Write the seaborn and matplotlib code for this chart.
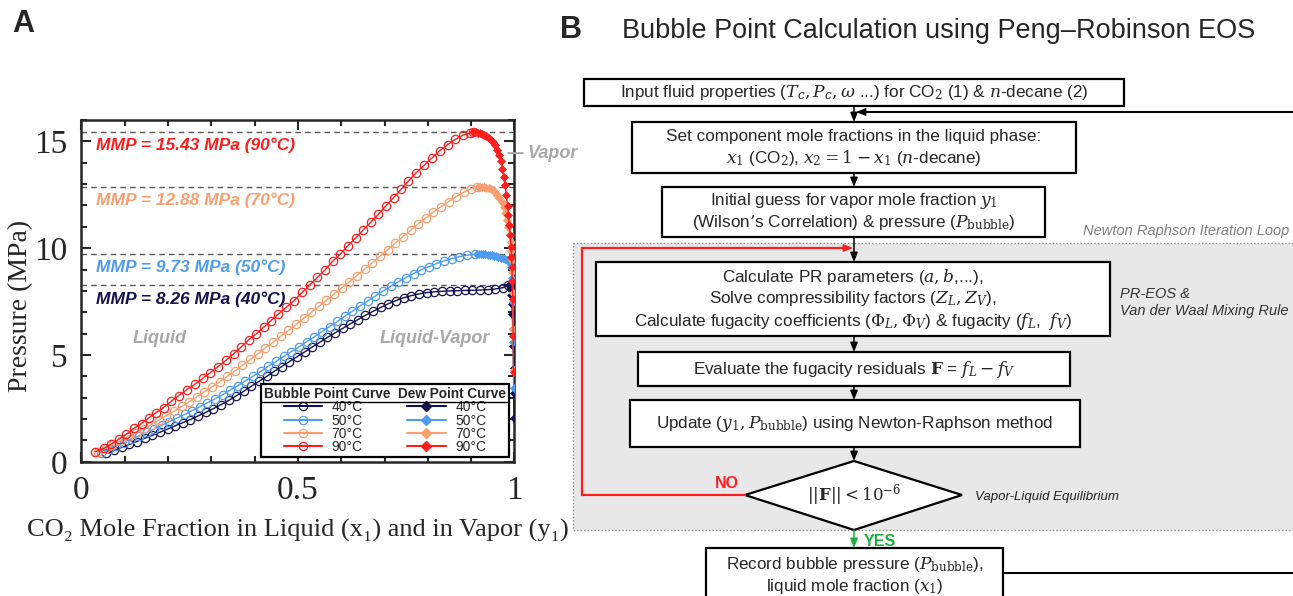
import matplotlib
matplotlib.use('Agg')
import numpy as np
import pandas as pd
import matplotlib.pyplot as plt
from matplotlib.patches import Rectangle, Polygon
from matplotlib.lines import Line2D
import seaborn as sns

sns.set_style("ticks")
plt.rcParams['font.family'] = ['Liberation Sans', 'DejaVu Sans']
plt.rcParams['mathtext.fontset'] = 'dejavuserif'

# ---------------- data ----------------
temps = ['40°C', '50°C', '70°C', '90°C']
colors = ['#13124f', '#4d9cf2', '#f89f70', '#fc1d1d']
mmp = [8.26, 9.73, 12.88, 15.43]

# bubble point curves (x1, P)
bub_x_40 = [0.058, 0.076, 0.093, 0.111, 0.128, 0.146, 0.164, 0.181, 0.199, 0.216,
            0.234, 0.252, 0.269, 0.287, 0.304, 0.322, 0.340, 0.357, 0.375, 0.392,
            0.410, 0.428, 0.445, 0.463, 0.480, 0.498, 0.516, 0.533, 0.551, 0.568,
            0.586, 0.604, 0.621, 0.639, 0.656, 0.674, 0.692, 0.709, 0.727, 0.744,
            0.762, 0.780, 0.797, 0.815, 0.832, 0.850, 0.868, 0.885, 0.903, 0.920,
            0.938, 0.956, 0.973, 0.986]
bub_p_40 = [0.40, 0.53, 0.67, 0.81, 0.95, 1.10, 1.24, 1.38, 1.53, 1.68,
            1.83, 1.98, 2.14, 2.31, 2.48, 2.67, 2.87, 3.08, 3.30, 3.53,
            3.76, 4.00, 4.23, 4.46, 4.69, 4.92, 5.15, 5.37, 5.60, 5.82,
            6.04, 6.25, 6.46, 6.66, 6.86, 7.05, 7.23, 7.40, 7.55, 7.68,
            7.78, 7.86, 7.92, 7.96, 7.98, 8.00, 8.01, 8.02, 8.03, 8.04,
            8.06, 8.09, 8.15, 8.26]

bub_x_50 = [0.045, 0.063, 0.080, 0.098, 0.115, 0.133, 0.151, 0.168, 0.186, 0.203,
            0.221, 0.239, 0.256, 0.274, 0.291, 0.309, 0.327, 0.344, 0.362, 0.379,
            0.397, 0.415, 0.432, 0.450, 0.467, 0.485, 0.503, 0.520, 0.538, 0.555,
            0.573, 0.591, 0.608, 0.626, 0.643, 0.661, 0.679, 0.696, 0.714, 0.731,
            0.749, 0.767, 0.784, 0.802, 0.819, 0.837, 0.855, 0.872, 0.890, 0.909]
bub_p_50 = [0.42, 0.58, 0.74, 0.90, 1.06, 1.22, 1.38, 1.54, 1.71, 1.88,
            2.05, 2.22, 2.40, 2.58, 2.76, 2.95, 3.15, 3.36, 3.57, 3.79,
            4.01, 4.24, 4.47, 4.70, 4.93, 5.16, 5.39, 5.62, 5.85, 6.09,
            6.33, 6.57, 6.81, 7.05, 7.29, 7.53, 7.76, 7.99, 8.21, 8.42,
            8.62, 8.81, 8.98, 9.13, 9.27, 9.40, 9.51, 9.60, 9.67, 9.72]

bub_x_70 = [0.038, 0.056, 0.073, 0.091, 0.108, 0.126, 0.144, 0.161, 0.179, 0.196,
            0.214, 0.232, 0.249, 0.267, 0.284, 0.302, 0.320, 0.337, 0.355, 0.372,
            0.390, 0.408, 0.425, 0.443, 0.460, 0.478, 0.496, 0.513, 0.531, 0.548,
            0.566, 0.584, 0.601, 0.619, 0.636, 0.654, 0.672, 0.689, 0.707, 0.724,
            0.742, 0.760, 0.777, 0.795, 0.812, 0.830, 0.848, 0.865, 0.883, 0.900, 0.913]
bub_p_70 = [0.45, 0.63, 0.81, 0.99, 1.17, 1.36, 1.55, 1.74, 1.95, 2.16,
            2.37, 2.59, 2.81, 3.04, 3.27, 3.50, 3.75, 4.00, 4.26, 4.52,
            4.79, 5.06, 5.33, 5.60, 5.87, 6.15, 6.43, 6.71, 6.99, 7.27,
            7.56, 7.85, 8.14, 8.43, 8.72, 9.01, 9.32, 9.62, 9.92, 10.22,
            10.53, 10.83, 11.12, 11.41, 11.68, 11.94, 12.18, 12.41, 12.62, 12.79, 12.88]

bub_x_90 = [0.032, 0.052, 0.069, 0.086, 0.104, 0.121, 0.139, 0.156, 0.172, 0.190,
            0.208, 0.225, 0.244, 0.262, 0.280, 0.298, 0.315, 0.334, 0.352, 0.369,
            0.386, 0.404, 0.421, 0.438, 0.455, 0.473, 0.491, 0.510, 0.528, 0.545,
            0.563, 0.580, 0.598, 0.615, 0.633, 0.650, 0.669, 0.686, 0.703, 0.721,
            0.738, 0.755, 0.773, 0.792, 0.810, 0.828, 0.846, 0.863, 0.881, 0.897, 0.905]
bub_p_90 = [0.47, 0.63, 0.83, 1.05, 1.29, 1.56, 1.79, 2.06, 2.29, 2.54,
            2.84, 3.10, 3.38, 3.63, 3.90, 4.18, 4.44, 4.75, 5.06, 5.37,
            5.71, 5.99, 6.30, 6.61, 6.92, 7.23, 7.54, 7.93, 8.29, 8.63,
            8.99, 9.38, 9.72, 10.11, 10.47, 10.84, 11.23, 11.59, 11.98, 12.37,
            12.75, 13.14, 13.53, 13.89, 14.23, 14.57, 14.85, 15.09, 15.29, 15.40, 15.43]

# dew point curves (y1, P)
dew_y_40 = [0.988, 0.990, 0.992, 0.993, 0.994, 0.995, 0.996, 0.997, 0.998, 0.998, 0.999]
dew_p_40 = [8.26, 8.22, 8.10, 7.80, 7.40, 6.90, 6.20, 5.40, 4.40, 3.20, 2.05]

dew_y_50 = [0.913, 0.918, 0.923, 0.928, 0.933, 0.938, 0.943, 0.948, 0.953, 0.958,
            0.963, 0.968, 0.973, 0.978, 0.982, 0.986, 0.990, 0.993, 0.995, 0.996,
            0.997, 0.998]
dew_p_50 = [9.74, 9.74, 9.73, 9.72, 9.71, 9.70, 9.68, 9.66, 9.64, 9.62,
            9.59, 9.56, 9.52, 9.48, 9.43, 9.38, 9.30, 9.10, 8.60, 7.50,
            5.60, 3.45]

dew_y_70 = [0.915, 0.920, 0.925, 0.930, 0.935, 0.940, 0.945, 0.950, 0.955, 0.960,
            0.965, 0.970, 0.975, 0.979, 0.983, 0.986, 0.989, 0.991, 0.993, 0.994,
            0.995, 0.996, 0.997, 0.998]
dew_p_70 = [12.88, 12.88, 12.87, 12.86, 12.84, 12.80, 12.76, 12.70, 12.62, 12.51,
            12.36, 12.17, 11.92, 11.65, 11.30, 10.98, 10.60, 10.30, 9.85, 9.45,
            8.90, 7.90, 6.20, 4.30]

dew_y_90 = [0.905, 0.910, 0.915, 0.920, 0.925, 0.930, 0.935, 0.940, 0.945, 0.950,
            0.955, 0.960, 0.964, 0.968, 0.972, 0.975, 0.978, 0.981, 0.984, 0.986,
            0.988, 0.990, 0.992, 0.993, 0.994, 0.995, 0.996, 0.997, 0.998]
dew_p_90 = [15.42, 15.43, 15.41, 15.38, 15.35, 15.30, 15.25, 15.17, 15.08, 14.97,
            14.82, 14.60, 14.36, 14.06, 13.72, 13.35, 12.95, 12.50, 11.98, 11.55,
            11.10, 10.62, 10.05, 9.60, 9.10, 8.45, 7.60, 5.90, 4.20]

bub = [(bub_x_40, bub_p_40), (bub_x_50, bub_p_50), (bub_x_70, bub_p_70), (bub_x_90, bub_p_90)]
dew = [(dew_y_40, dew_p_40), (dew_y_50, dew_p_50), (dew_y_70, dew_p_70), (dew_y_90, dew_p_90)]

x_ticks = [0, 0.5, 1]
x_ticklabels = ['0', '0.5', '1']
y_ticks = [0, 5, 10, 15]
y_ticklabels = ['0', '5', '10', '15']

W, H = 1293, 596
fig = plt.figure(figsize=(W / 100, H / 100), dpi=100)

################ Panel A : P-x-y diagram ################
ax = fig.add_axes([81.3 / W, (H - 461.8) / H, 433.2 / W, 341.8 / H])

for (xs, ps), c in zip(bub, colors):
    sns.lineplot(x=xs, y=ps, ax=ax, color=c, marker='o', markersize=6,
                 markerfacecolor='none', markeredgecolor=c, markeredgewidth=0.9,
                 linewidth=1.0, sort=False, estimator=None, zorder=3)
for (ys, ps), c in zip(dew, colors):
    sns.lineplot(x=ys, y=ps, ax=ax, color=c, marker='D', markersize=4.5,
                 markerfacecolor=c, markeredgecolor=c, markeredgewidth=0.5,
                 linewidth=1.0, sort=False, estimator=None, zorder=4)

for m in mmp:
    ax.axhline(m, color='#555555', ls=(0, (4, 3)), lw=1.0, zorder=1)

ax.set_xlim(0, 1.0)
ax.set_ylim(0, 16)
ax.set_xticks(x_ticks, labels=x_ticklabels)
ax.set_yticks(y_ticks, labels=y_ticklabels)
ax.set_xticks(np.arange(0, 1.001, 0.1), minor=True)
ax.set_yticks(np.arange(0, 16.01, 1), minor=True)
ax.tick_params(which='both', direction='in', top=True, right=True, width=1.5)
ax.tick_params(which='major', length=7, pad=10)
ax.tick_params(which='minor', length=4)
for lab in ax.get_xticklabels() + ax.get_yticklabels():
    lab.set_fontfamily(['Liberation Serif', 'DejaVu Serif'])
    lab.set_fontsize(24)
for s in ax.spines.values():
    s.set_linewidth(1.8)
ax.set_xlabel('CO₂ Mole Fraction in Liquid (x₁) and in Vapor (y₁)',
              family=['Liberation Serif', 'DejaVu Serif'], fontsize=19, labelpad=9)
ax.set_ylabel('Pressure (MPa)', family=['Liberation Serif', 'DejaVu Serif'],
              fontsize=20)
ax.yaxis.set_label_coords(-0.112, 0.456)

mmp_text_y = [7.63, 9.10, 12.26, 14.82]
for m, t, c, yy in zip(mmp, temps, colors, mmp_text_y):
    ax.text(0.034, yy, f'MMP = {m:.2f} MPa ({t})', color=c, fontsize=12.5,
            fontweight='bold', fontstyle='italic', va='center', ha='left')

gray = '#a8a8a8'
ax.text(0.18, 5.76, 'Liquid', color=gray, fontsize=13, fontweight='bold',
        fontstyle='italic', ha='center', va='center')
ax.text(0.817, 5.76, 'Liquid-Vapor', color=gray, fontsize=13, fontweight='bold',
        fontstyle='italic', ha='center', va='center')
ax.annotate('Vapor', xy=(0.986, 14.45), xytext=(1.03, 14.45), color=gray,
            fontsize=13, fontweight='bold', fontstyle='italic', va='center',
            arrowprops=dict(arrowstyle='-', color=gray, lw=1.5, shrinkA=1, shrinkB=0),
            annotation_clip=False)

handles = [Line2D([], [], color=c, marker='o', markersize=6, markerfacecolor='none',
                  markeredgewidth=0.9, lw=1.5) for c in colors]
handles += [Line2D([], [], color=c, marker='D', markersize=5, markerfacecolor=c,
                   lw=1.5) for c in colors]
leg = ax.legend(handles, temps + temps, ncol=2, loc='lower right',
                bbox_to_anchor=(0.987, 0.014), borderaxespad=0,
                title='Bubble Point Curve  Dew Point Curve',
                title_fontproperties={'weight': 'bold', 'size': 9.8},
                fontsize=10, frameon=True, fancybox=False, edgecolor='black',
                framealpha=1, handlelength=2.75, handletextpad=0.7,
                columnspacing=3.2, labelspacing=-0.05, borderpad=0.2)
leg.get_frame().set_linewidth(1.6)
leg.set_zorder(10)

fig.text(12 / W, 1 - 24 / H, 'A', fontsize=22, fontweight='bold', va='center')
fig.text(560 / W, 1 - 30 / H, 'B', fontsize=22, fontweight='bold', va='center')

################ Panel B : flowchart ################
nar = ['Liberation Sans', 'DejaVu Sans']
bx = fig.add_axes([560 / W, 0, (W - 560) / W, 1])
bx.set_xlim(560, W)
bx.set_ylim(H, 0)
bx.axis('off')

bx.text(622, 31, 'Bubble Point Calculation using Peng–Robinson EOS', family=nar,
        fontsize=19.5, ha='left', va='center')

# iteration loop region
bx.add_patch(Rectangle((573, 243), 800, 287, fc='#e8e8e8', ec='#8c8c8c',
                       ls=(0, (1, 1.5)), lw=1.0, zorder=0))
bx.text(1083, 231, 'Newton Raphson Iteration Loop', family=nar, fontsize=10.5,
        fontstyle='italic', color='#7f7f7f', va='center')

cx = 854
fs = 12.3


def box(x0, x1, y0, y1, lines, ymid=None):
    bx.add_patch(Rectangle((x0, y0), x1 - x0, y1 - y0, fc='white', ec='black',
                           lw=1.6, zorder=2))
    n = len(lines)
    pitch = 22
    if ymid is None:
        ymid = (y0 + y1) / 2
    for i, s in enumerate(lines):
        bx.text((x0 + x1) / 2, ymid + (i - (n - 1) / 2) * pitch, s, family=nar,
                fontsize=fs, ha='center', va='center', zorder=3)


def arrow(y0, y1, color='black', x0=cx, x1=cx):
    bx.annotate('', xy=(x1, y1), xytext=(x0, y0),
                arrowprops=dict(arrowstyle='-|>,head_length=0.55,head_width=0.22',
                                color=color, lw=1.1, shrinkA=0, shrinkB=0), zorder=3)


box(584, 1124, 79, 106,
    [r'Input fluid properties ($T_c, P_c, \omega$ ...) for CO$_2$ (1) & $n$-decane (2)'])
box(632, 1076, 122, 173,
    ['Set component mole fractions in the liquid phase:',
     r'$x_1$ (CO$_2$), $x_2 = 1 - x_1$ ($n$-decane)'])
box(662, 1045, 187, 237,
    [r'Initial guess for vapor mole fraction $y_1$',
     r'(Wilson’s Correlation) & pressure ($P_{\mathrm{bubble}}$)'])
box(596, 1110, 262, 336,
    [r'Calculate PR parameters ($a, b$,...),',
     r'Solve compressibility factors ($Z_L, Z_V$),',
     r'Calculate fugacity coefficients ($\Phi_L, \Phi_V$) & fugacity ($f_L$,  $f_V$)'])
box(638, 1070, 352, 386, [r'Evaluate the fugacity residuals $\mathbf{F}$ = $f_L - f_V$'])
box(630, 1080, 400, 447, [r'Update ($y_1, P_{\mathrm{bubble}}$) using Newton-Raphson method'])
box(706, 1003, 548, 620,
    [r'Record bubble pressure ($P_{\mathrm{bubble}}$),', r'liquid mole fraction ($x_1$)'],
    ymid=575)
bx.add_patch(Polygon([(745, 495), (cx, 461), (962, 495), (cx, 530)], closed=True,
                     fc='white', ec='black', lw=1.6, zorder=2))
bx.text(cx, 495, r'$||\mathbf{F}|| < 10^{-6}$', fontsize=12, ha='center',
        va='center', zorder=3)

arrow(106, 122)
arrow(173, 187)
arrow(237, 262)
arrow(336, 352)
arrow(386, 400)
arrow(447, 461)
arrow(530, 548, color='#1fae3e')

# loop back (NO)
red = '#ff1e1e'
bx.plot([745, 582, 582, 845], [495, 495, 248, 248], color=red, lw=1.6, zorder=3,
        solid_joinstyle='miter')
arrow(248, 248, color=red, x0=840, x1=cx - 1)
bx.text(727, 483, 'NO', family=nar, color=red, fontsize=11.5, fontweight='bold',
        ha='center', va='center')
bx.text(864, 541, 'YES', family=nar, color='#1fae3e', fontsize=11.5,
        fontweight='bold', ha='left', va='center')

# outer loop lines (to the next x1)
bx.plot([1003, W + 5], [573, 573], color='black', lw=1.5, zorder=3)
bx.plot([W + 5, 866], [112, 112], color='black', lw=1.5, zorder=3)
arrow(112, 112, x0=870, x1=cx + 2)

bx.text(1120, 294, 'PR-EOS &', family=nar, fontsize=10.5, fontstyle='italic',
        color='#333333', va='center')
bx.text(1120, 311, 'Van der Waal Mixing Rule', family=nar, fontsize=10.5,
        fontstyle='italic', color='#333333', va='center')
bx.text(975, 497, 'Vapor-Liquid Equilibrium', family=nar, fontsize=9.5,
        fontstyle='italic', color='#222222', va='center')

# line under the legend header
fig.canvas.draw()
r = fig.canvas.get_renderer()
tb = leg.get_title().get_window_extent(r)
fb = leg.get_frame().get_window_extent(r)
ly = (tb.y0 - 1) / H
fig.add_artist(Line2D([fb.x0 / W, fb.x1 / W], [ly, ly], color='black', lw=1.0))

fig.savefig('out.png', dpi=100)
